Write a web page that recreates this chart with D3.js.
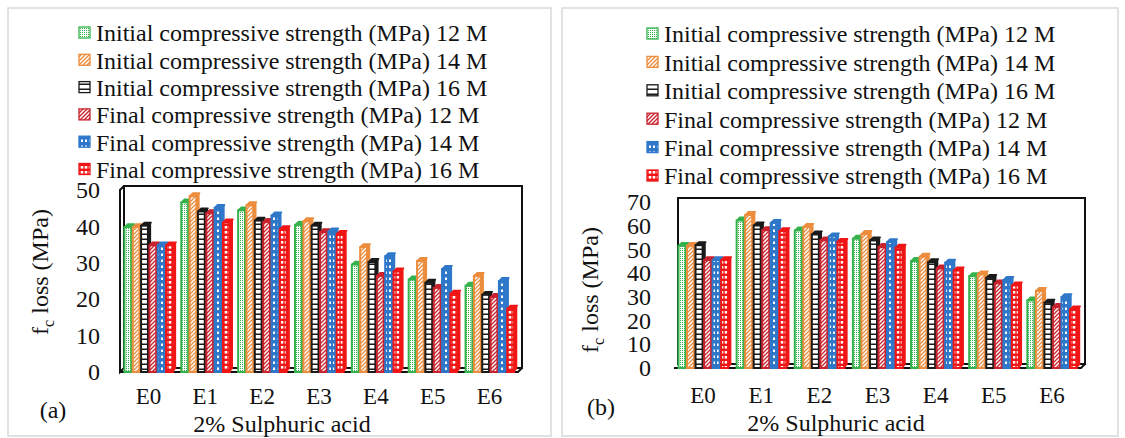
<!DOCTYPE html>
<html><head><meta charset="utf-8">
<script src="https://cdn.jsdelivr.net/npm/d3@7"></script>
<style>body{margin:0;background:#fff}svg{display:block}text{font-family:"Liberation Serif","Times New Roman",serif;fill:#111}</style>
</head><body><svg id="c" width="1125" height="438" font-family="Liberation Serif"></svg>
<script>
const categories = ["E0","E1","E2","E3","E4","E5","E6"];
const seriesNames = [
  "Initial compressive strength (MPa) 12 M",
  "Initial compressive strength (MPa) 14 M",
  "Initial compressive strength (MPa) 16 M",
  "Final compressive strength (MPa) 12 M",
  "Final compressive strength (MPa) 14 M",
  "Final compressive strength (MPa) 16 M"];
const seriesColors = ["#35b24c","#ec8d3e","#1a1a1a","#c9232d","#2f78c9","#f01616"];
// Panel (a)
const aInit12  = [39.8, 46.6, 44.4, 40.4, 29.5, 25.4, 23.7];
const aInit14  = [39.8, 48.3, 45.8, 41.4, 34.3, 30.5, 26.4];
const aInit16  = [40.2, 44.1, 41.6, 40.2, 30.2, 24.5, 21.2];
const aFinal12 = [34.8, 43.6, 41.2, 38.4, 26.4, 23.1, 20.6];
const aFinal14 = [34.8, 45.1, 43.0, 38.6, 31.8, 28.3, 25.0];
const aFinal16 = [34.8, 41.1, 39.2, 37.9, 27.6, 21.5, 17.4];
const aTicks = [0,10,20,30,40,50];
// Panel (b)
const bInit12  = [51.5, 62.2, 58.0, 54.5, 45.1, 38.7, 28.5];
const bInit14  = [51.5, 64.5, 59.5, 56.5, 46.9, 39.5, 32.5];
const bInit16  = [51.8, 60.1, 56.3, 53.8, 44.6, 38.0, 27.5];
const bFinal12 = [45.5, 58.1, 53.8, 51.0, 42.0, 35.7, 25.7];
const bFinal14 = [45.5, 61.2, 55.5, 53.1, 44.4, 37.1, 29.9];
const bFinal16 = [45.5, 57.7, 53.2, 50.7, 41.1, 34.8, 24.7];
const bTicks = [0,10,20,30,40,50,60,70];

const svg = d3.select("#c");
const defs = svg.append("defs");
function pat(id,w,h,draw){const p=defs.append("pattern").attr("id",id).attr("patternUnits","userSpaceOnUse").attr("width",w).attr("height",h);draw(p);}
pat("p0",2,2,p=>{p.append("rect").attr("width",2).attr("height",2).attr("fill","#fff");p.append("rect").attr("width",1).attr("height",1).attr("fill",seriesColors[0]);});
pat("p1",4,4,p=>{p.append("rect").attr("width",4).attr("height",4).attr("fill","#fff");p.append("path").attr("d","M-1,5 L5,-1 M-1,1 L1,-1 M3,5 L5,3").attr("stroke",seriesColors[1]).attr("stroke-width",1.3);});
pat("p2",4,5,p=>{p.append("rect").attr("width",4).attr("height",5).attr("fill","#fff");p.append("rect").attr("y",3.5).attr("width",4).attr("height",1.5).attr("fill",seriesColors[2]);});
pat("p3",4,4,p=>{p.append("rect").attr("width",4).attr("height",4).attr("fill","#fff");p.append("path").attr("d","M-1,5 L5,-1 M-1,1 L1,-1 M3,5 L5,3").attr("stroke",seriesColors[3]).attr("stroke-width",1.3);});
pat("p4",4,6,p=>{p.append("rect").attr("width",4).attr("height",6).attr("fill",seriesColors[4]);p.append("rect").attr("x",1).attr("y",1.5).attr("width",2).attr("height",2.5).attr("fill","#fff");});
pat("p5",4,5,p=>{p.append("rect").attr("width",4).attr("height",5).attr("fill",seriesColors[5]);p.append("rect").attr("x",0.7).attr("y",1).attr("width",2.6).attr("height",2.6).attr("fill","#fff");});

function panel(cfg){
  const g = svg.append("g");
  g.append("rect").attr("x",cfg.bx).attr("y",cfg.by).attr("width",cfg.bw).attr("height",cfg.bh).attr("fill","#fff").attr("stroke","#d9d9d9").attr("stroke-width",1.5);
  seriesNames.forEach((n,i)=>{
    const y = cfg.legY + i*cfg.legStep;
    g.append("rect").attr("x",cfg.legX).attr("y",y-6).attr("width",11).attr("height",11).attr("fill",`url(#p${i})`).attr("stroke",seriesColors[i]).attr("stroke-width",1.3);
    g.append("text").attr("x",cfg.legX+17).attr("y",y).attr("dy","0.35em").attr("font-size",24).text(n);
  });
  const d = cfg.depth;
  const y = d3.scaleLinear().domain([0,cfg.max]).range([cfg.floor, cfg.top]);
  const x0 = d3.scaleBand().domain(categories).range([cfg.x0,cfg.x1]).paddingInner(0.12).paddingOuter(0.06);
  const x1 = d3.scaleBand().domain(d3.range(6)).range([0,x0.bandwidth()]);
  g.append("rect").attr("x",cfg.x0+d).attr("y",y(cfg.max)-d).attr("width",cfg.x1-cfg.x0).attr("height",cfg.floor-y(cfg.max)).attr("fill","none").attr("stroke","#111").attr("stroke-width",2);
  if(cfg.wall){
    g.append("path").attr("d",`M${cfg.x0+d},${y(cfg.max)-d} L${cfg.x0},${y(cfg.max)} L${cfg.x0},${cfg.floor} L${cfg.x0+d},${cfg.floor-d}`).attr("fill","none").attr("stroke","#111").attr("stroke-width",2);
  }
  g.append("path").attr("d",`M${cfg.x0},${cfg.floor} L${cfg.x1},${cfg.floor} L${cfg.x1+d},${cfg.floor-d}`).attr("fill","none").attr("stroke","#111").attr("stroke-width",2);
  const ax = d3.axisLeft(y).tickValues(cfg.ticks).tickSize(0).tickPadding(0);
  const axg = g.append("g").attr("transform",`translate(${cfg.tickX},0)`).call(ax);
  axg.select(".domain").remove();
  axg.selectAll("text").attr("font-size",24).attr("font-family","Liberation Serif").attr("fill","#111");
  const cax = d3.axisBottom(x0).tickSize(0).tickPadding(0);
  const cg = g.append("g").attr("transform",`translate(0,${cfg.catY})`).call(cax);
  cg.select(".domain").remove();
  cg.selectAll("text").attr("font-size",23).attr("font-family","Liberation Serif").attr("fill","#111").attr("dy","0.35em");
  const bw = x1.bandwidth()-1.5;
  categories.forEach((c,ci)=>{
    cfg.series.forEach((arr,si)=>{
      const v = arr[ci];
      const bx = x0(c)+x1(si)+1;
      const ty = y(v), by = y(0);
      const col = seriesColors[si];
      const bg = g.append("g");
      bg.append("path").attr("d",`M${bx+bw},${ty} L${bx+bw+d*0.8},${ty-d*0.8} L${bx+bw+d*0.8},${by-d*0.8} L${bx+bw},${by} Z`).attr("fill",col);
      bg.append("path").attr("d",`M${bx},${ty} L${bx+d*0.8},${ty-d*0.8} L${bx+bw+d*0.8},${ty-d*0.8} L${bx+bw},${ty} Z`).attr("fill",col).attr("stroke",col).attr("stroke-width",1.5).attr("stroke-linejoin","round");
      bg.append("rect").attr("x",bx).attr("y",ty).attr("width",bw).attr("height",by-ty).attr("fill",`url(#p${si})`).attr("stroke",col).attr("stroke-width",2);
    });
  });
  g.append("text").attr("transform",`translate(${cfg.ytX},${cfg.ytY}) rotate(-90)`).attr("text-anchor","middle").attr("dy","0.35em").attr("font-size",24)
    .call(t=>{t.append("tspan").text("f");t.append("tspan").attr("font-size",16).attr("dy",6).text("c");t.append("tspan").attr("dy",-6).text(" loss (MPa)");});
  g.append("text").attr("x",cfg.xtX).attr("y",cfg.xtY).attr("text-anchor","middle").attr("dy","0.35em").attr("font-size",24).text("2% Sulphuric acid");
  g.append("text").attr("x",cfg.labX).attr("y",cfg.labY).attr("text-anchor","middle").attr("dy","0.35em").attr("font-size",24).text(cfg.label);
}

panel({bx:8,by:8,bw:543,bh:428,legX:79,legY:33,legStep:27.3,max:50,floor:372,top:190,x0:120,x1:518,depth:4,wall:true,
  ticks:aTicks,tickX:100,catY:396,series:[aInit12,aInit14,aInit16,aFinal12,aFinal14,aFinal16],
  ytX:40,ytY:272,xtX:282,xtY:424,labX:53,labY:410,label:"(a)"});
panel({bx:562,by:8,bw:556,bh:428,legX:647,legY:34,legStep:28.4,max:70,floor:368,top:202,x0:674,x1:1081,depth:4,wall:false,
  ticks:bTicks,tickX:651,catY:395,series:[bInit12,bInit14,bInit16,bFinal12,bFinal14,bFinal16],
  ytX:590,ytY:290,xtX:836,xtY:423,labX:601,labY:407,label:"(b)"});
</script></body></html>
